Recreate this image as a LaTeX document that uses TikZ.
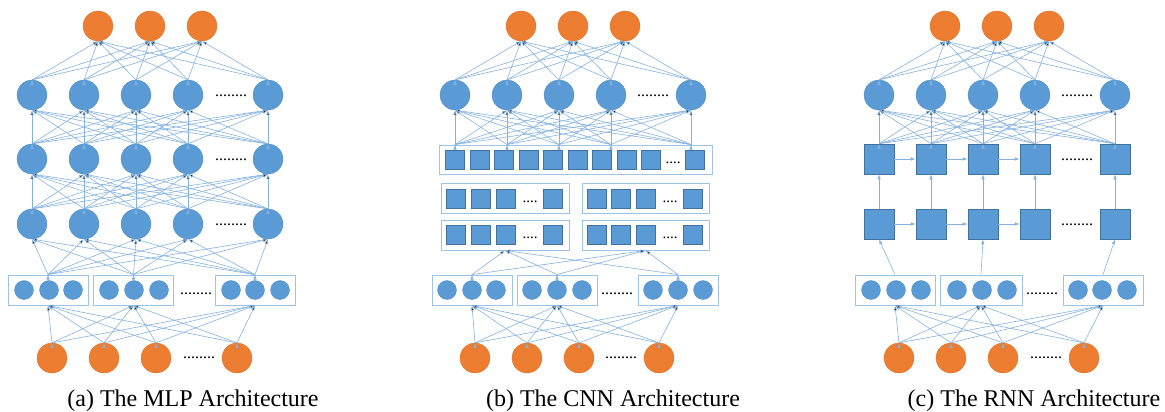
\documentclass[tikz,border=0pt]{standalone}
\usepackage{fontspec}
\setmainfont{Liberation Serif}
\usepackage{tikz, xcolor}
\usetikzlibrary{shapes,arrows.meta}

\definecolor{orng}{RGB}{237,125,49}
\definecolor{blu}{RGB}{91,155,213}
\definecolor{bluedge}{RGB}{65,113,156}
\definecolor{lnblue}{RGB}{132,178,224}
\definecolor{boxblue}{RGB}{157,195,230}

\begin{document}
\begin{tikzpicture}[x=1pt, y=-1pt]
\tikzstyle{vertexo}=[circle, fill=orng, draw=orng!90!black, line width=0.3pt, minimum size=30pt, inner sep=0pt]
\tikzstyle{vertexb}=[circle, fill=blu, draw=blu!90!black, line width=0.3pt, minimum size=30pt, inner sep=0pt]
\tikzstyle{vertexs}=[circle, fill=blu, draw=blu!90!black, line width=0.3pt, minimum size=19pt, inner sep=0pt]
\tikzstyle{vertexq}=[rectangle, fill=blu, draw=bluedge, line width=0.6pt, minimum size=30pt, inner sep=0pt]
\tikzstyle{vertexk}=[rectangle, fill=blu, draw=bluedge, line width=0.5pt, minimum size=19pt, inner sep=0pt]
\tikzstyle{boxstyle}=[rectangle, draw=boxblue, line width=0.9pt, minimum width=80pt, minimum height=30pt, inner sep=0pt]
\tikzstyle{drawstyle}=[draw=lnblue, line width=0.6pt, -{Latex[length=5pt,width=3.5pt]}]
\tikzstyle{dotstyle}=[font=\fontsize{16}{16}\selectfont, anchor=base, inner sep=0pt]
\tikzstyle{dotsmall}=[font=\fontsize{15}{15}\selectfont, anchor=base, inner sep=0pt]
\tikzstyle{capstyle}=[font=\fontsize{24}{28}\selectfont, anchor=base, inner sep=0pt]

\useasboundingbox (0,0) rectangle (1165,412);

% (a) MLP
\node[vertexo] (A0x1) at (98,26) {};
\node[vertexo] (A0x2) at (150,26) {};
\node[vertexo] (A0x3) at (202,26) {};
\node[vertexb] (A1x1) at (32,95) {};
\node[vertexb] (A1x2) at (84,95) {};
\node[vertexb] (A1x3) at (136,95) {};
\node[vertexb] (A1x4) at (188,95) {};
\node[vertexb] (A1x5) at (268,95) {};
\node[dotstyle] (A1dots) at (231,96.5) {........};
\node[vertexb] (A2x1) at (32,159) {};
\node[vertexb] (A2x2) at (84,159) {};
\node[vertexb] (A2x3) at (136,159) {};
\node[vertexb] (A2x4) at (188,159) {};
\node[vertexb] (A2x5) at (268,159) {};
\node[dotstyle] (A2dots) at (231,160.5) {........};
\node[vertexb] (A3x1) at (32,224) {};
\node[vertexb] (A3x2) at (84,224) {};
\node[vertexb] (A3x3) at (136,224) {};
\node[vertexb] (A3x4) at (188,224) {};
\node[vertexb] (A3x5) at (268,224) {};
\node[dotstyle] (A3dots) at (231,225.5) {........};
\node[boxstyle] (A4x1) at (48,290) {};
\node[boxstyle] (A4x2) at (133.5,290) {};
\node[boxstyle] (A4x3) at (255,290) {};
\node[vertexs] (A4x1a) at (24,290) {};
\node[vertexs] (A4x1b) at (49,290) {};
\node[vertexs] (A4x1c) at (73,290) {};
\node[vertexs] (A4x2a) at (109,290) {};
\node[vertexs] (A4x2b) at (134,290) {};
\node[vertexs] (A4x2c) at (159,290) {};
\node[vertexs] (A4x3a) at (231,290) {};
\node[vertexs] (A4x3b) at (255,290) {};
\node[vertexs] (A4x3c) at (280,290) {};
\node[dotstyle] (A4dots) at (196,294.5) {........};
\node[vertexo] (A5x1) at (52,358) {};
\node[vertexo] (A5x2) at (104,358) {};
\node[vertexo] (A5x3) at (156,358) {};
\node[vertexo] (A5x4) at (237,358) {};
\node[dotstyle] (A5dots) at (199,358.5) {........};
\draw[drawstyle] (A5x1.north) edge (A4x1.south) edge (A4x2.south) edge (A4x3.south);
\draw[drawstyle] (A5x2.north) edge (A4x1.south) edge (A4x2.south) edge (A4x3.south);
\draw[drawstyle] (A5x3.north) edge (A4x1.south) edge (A4x2.south) edge (A4x3.south);
\draw[drawstyle] (A5x4.north) edge (A4x1.south) edge (A4x2.south) edge (A4x3.south);
\draw[drawstyle] (A4x1.north) edge (A3x1.south) edge (A3x2.south) edge (A3x3.south) edge (A3x4.south) edge (A3x5.south);
\draw[drawstyle] (A4x2.north) edge (A3x1.south) edge (A3x2.south) edge (A3x3.south) edge (A3x4.south) edge (A3x5.south);
\draw[drawstyle] (A4x3.north) edge (A3x1.south) edge (A3x2.south) edge (A3x3.south) edge (A3x4.south) edge (A3x5.south);
\draw[drawstyle] (A3x1.north) edge (A2x1.south) edge (A2x2.south) edge (A2x3.south) edge (A2x4.south) edge (A2x5.south);
\draw[drawstyle] (A3x2.north) edge (A2x1.south) edge (A2x2.south) edge (A2x3.south) edge (A2x4.south) edge (A2x5.south);
\draw[drawstyle] (A3x3.north) edge (A2x1.south) edge (A2x2.south) edge (A2x3.south) edge (A2x4.south) edge (A2x5.south);
\draw[drawstyle] (A3x4.north) edge (A2x1.south) edge (A2x2.south) edge (A2x3.south) edge (A2x4.south) edge (A2x5.south);
\draw[drawstyle] (A3x5.north) edge (A2x1.south) edge (A2x2.south) edge (A2x3.south) edge (A2x4.south) edge (A2x5.south);
\draw[drawstyle] (A2x1.north) edge (A1x1.south) edge (A1x2.south) edge (A1x3.south) edge (A1x4.south) edge (A1x5.south);
\draw[drawstyle] (A2x2.north) edge (A1x1.south) edge (A1x2.south) edge (A1x3.south) edge (A1x4.south) edge (A1x5.south);
\draw[drawstyle] (A2x3.north) edge (A1x1.south) edge (A1x2.south) edge (A1x3.south) edge (A1x4.south) edge (A1x5.south);
\draw[drawstyle] (A2x4.north) edge (A1x1.south) edge (A1x2.south) edge (A1x3.south) edge (A1x4.south) edge (A1x5.south);
\draw[drawstyle] (A2x5.north) edge (A1x1.south) edge (A1x2.south) edge (A1x3.south) edge (A1x4.south) edge (A1x5.south);
\draw[drawstyle] (A1x1.north) edge (A0x1.south) edge (A0x2.south) edge (A0x3.south);
\draw[drawstyle] (A1x2.north) edge (A0x1.south) edge (A0x2.south) edge (A0x3.south);
\draw[drawstyle] (A1x3.north) edge (A0x1.south) edge (A0x2.south) edge (A0x3.south);
\draw[drawstyle] (A1x4.north) edge (A0x1.south) edge (A0x2.south) edge (A0x3.south);
\draw[drawstyle] (A1x5.north) edge (A0x1.south) edge (A0x2.south) edge (A0x3.south);
\node[capstyle] (Acap) at (193,406) {(a) The MLP Architecture};

% (b) CNN
\node[vertexo] (B0x1) at (521,26) {};
\node[vertexo] (B0x2) at (573,26) {};
\node[vertexo] (B0x3) at (625,26) {};
\node[vertexb] (B1x1) at (455,95) {};
\node[vertexb] (B1x2) at (507,95) {};
\node[vertexb] (B1x3) at (559,95) {};
\node[vertexb] (B1x4) at (611,95) {};
\node[vertexb] (B1x5) at (691,95) {};
\node[dotstyle] (B1dots) at (653,96.5) {........};
\node[boxstyle, minimum width=273pt, minimum height=29pt] (B2) at (575.5,159.5) {};
\node[vertexk] (B2s1) at (455,160) {};
\node[vertexk] (B2s2) at (479.5,160) {};
\node[vertexk] (B2s3) at (504,160) {};
\node[vertexk] (B2s4) at (528.5,160) {};
\node[vertexk] (B2s5) at (553,160) {};
\node[vertexk] (B2s6) at (577.5,160) {};
\node[vertexk] (B2s7) at (602,160) {};
\node[vertexk] (B2s8) at (626.5,160) {};
\node[vertexk] (B2s9) at (651,160) {};
\node[dotsmall] (B2dots) at (673,163) {....};
\node[vertexk] (B2s10) at (695,160) {};
\coordinate (B2x1) at (B1x1 |- B2.north);
\coordinate (B2x2) at (B1x2 |- B2.north);
\coordinate (B2x3) at (B1x3 |- B2.north);
\coordinate (B2x4) at (B1x4 |- B2.north);
\coordinate (B2x5) at (B1x5 |- B2.north);
\node[boxstyle, minimum width=128pt] (B3x1) at (505,198.5) {};
\node[boxstyle, minimum width=127pt] (B3x2) at (645.5,198.5) {};
\node[vertexk] (B3x1a) at (456,198.5) {};
\node[vertexk] (B3x1b) at (481,198.5) {};
\node[vertexk] (B3x1c) at (506,198.5) {};
\node[dotsmall] (B3x1dots) at (530,202) {....};
\node[vertexk] (B3x1d) at (553,198.5) {};
\node[vertexk] (B3x2a) at (597,198.5) {};
\node[vertexk] (B3x2b) at (621,198.5) {};
\node[vertexk] (B3x2c) at (646,198.5) {};
\node[dotsmall] (B3x2dots) at (670,202) {....};
\node[vertexk] (B3x2d) at (693,198.5) {};
\node[boxstyle, minimum width=128pt] (B4x1) at (505,235) {};
\node[boxstyle, minimum width=127pt] (B4x2) at (645.5,235) {};
\node[vertexk] (B4x1a) at (456,235) {};
\node[vertexk] (B4x1b) at (481,235) {};
\node[vertexk] (B4x1c) at (506,235) {};
\node[dotsmall] (B4x1dots) at (530,238.5) {....};
\node[vertexk] (B4x1d) at (553,235) {};
\node[vertexk] (B4x2a) at (597,235) {};
\node[vertexk] (B4x2b) at (621,235) {};
\node[vertexk] (B4x2c) at (646,235) {};
\node[dotsmall] (B4x2dots) at (670,238.5) {....};
\node[vertexk] (B4x2d) at (693,235) {};
\node[boxstyle] (B5x1) at (472,290) {};
\node[boxstyle] (B5x2) at (557,290) {};
\node[boxstyle] (B5x3) at (678,290) {};
\node[vertexs] (B5x1a) at (447,290) {};
\node[vertexs] (B5x1b) at (472,290) {};
\node[vertexs] (B5x1c) at (496,290) {};
\node[vertexs] (B5x2a) at (532,290) {};
\node[vertexs] (B5x2b) at (557,290) {};
\node[vertexs] (B5x2c) at (582,290) {};
\node[vertexs] (B5x3a) at (653,290) {};
\node[vertexs] (B5x3b) at (678,290) {};
\node[vertexs] (B5x3c) at (703,290) {};
\node[dotstyle] (B5dots) at (617,294.5) {........};
\node[vertexo] (B6x1) at (475,358) {};
\node[vertexo] (B6x2) at (527,358) {};
\node[vertexo] (B6x3) at (579,358) {};
\node[vertexo] (B6x4) at (659,358) {};
\node[dotstyle] (B6dots) at (621,358.5) {........};
\draw[drawstyle] (B6x1.north) edge (B5x1.south) edge (B5x2.south) edge (B5x3.south);
\draw[drawstyle] (B6x2.north) edge (B5x1.south) edge (B5x2.south) edge (B5x3.south);
\draw[drawstyle] (B6x3.north) edge (B5x1.south) edge (B5x2.south) edge (B5x3.south);
\draw[drawstyle] (B6x4.north) edge (B5x1.south) edge (B5x2.south) edge (B5x3.south);
\draw[drawstyle] (B5x1.north) edge (B4x1.south) edge (B4x2.south);
\draw[drawstyle] (B5x2.north) edge (B4x1.south) edge (B4x2.south);
\draw[drawstyle] (B5x3.north) edge (B4x1.south) edge (B4x2.south);
\draw[drawstyle] (B2x1) edge (B1x1.south) edge (B1x2.south) edge (B1x3.south) edge (B1x4.south) edge (B1x5.south);
\draw[drawstyle] (B2x2) edge (B1x1.south) edge (B1x2.south) edge (B1x3.south) edge (B1x4.south) edge (B1x5.south);
\draw[drawstyle] (B2x3) edge (B1x1.south) edge (B1x2.south) edge (B1x3.south) edge (B1x4.south) edge (B1x5.south);
\draw[drawstyle] (B2x4) edge (B1x1.south) edge (B1x2.south) edge (B1x3.south) edge (B1x4.south) edge (B1x5.south);
\draw[drawstyle] (B2x5) edge (B1x1.south) edge (B1x2.south) edge (B1x3.south) edge (B1x4.south) edge (B1x5.south);
\draw[drawstyle] (B1x1.north) edge (B0x1.south) edge (B0x2.south) edge (B0x3.south);
\draw[drawstyle] (B1x2.north) edge (B0x1.south) edge (B0x2.south) edge (B0x3.south);
\draw[drawstyle] (B1x3.north) edge (B0x1.south) edge (B0x2.south) edge (B0x3.south);
\draw[drawstyle] (B1x4.north) edge (B0x1.south) edge (B0x2.south) edge (B0x3.south);
\draw[drawstyle] (B1x5.north) edge (B0x1.south) edge (B0x2.south) edge (B0x3.south);
\node[capstyle] (Bcap) at (613,406) {(b) The CNN Architecture};

% (c) RNN
\node[vertexo] (C0x1) at (945,26) {};
\node[vertexo] (C0x2) at (997,26) {};
\node[vertexo] (C0x3) at (1049,26) {};
\node[vertexb] (C1x1) at (879,95) {};
\node[vertexb] (C1x2) at (931,95) {};
\node[vertexb] (C1x3) at (983,95) {};
\node[vertexb] (C1x4) at (1035,95) {};
\node[vertexb] (C1x5) at (1115,95) {};
\node[dotstyle] (C1dots) at (1077,96.5) {........};
\node[vertexq] (C2x1) at (879,159) {};
\node[vertexq] (C2x2) at (931,159) {};
\node[vertexq] (C2x3) at (983,159) {};
\node[vertexq] (C2x4) at (1035,159) {};
\node[vertexq] (C2x5) at (1115,159) {};
\node[dotstyle] (C2dots) at (1077,160) {........};
\node[vertexq] (C3x1) at (879,224) {};
\node[vertexq] (C3x2) at (931,224) {};
\node[vertexq] (C3x3) at (983,224) {};
\node[vertexq] (C3x4) at (1035,224) {};
\node[vertexq] (C3x5) at (1115,224) {};
\node[dotstyle] (C3dots) at (1077,225) {........};
\node[boxstyle] (C4x1) at (895,290) {};
\node[boxstyle, minimum width=82pt] (C4x2) at (981,290) {};
\node[boxstyle] (C4x3) at (1103,290) {};
\node[vertexs] (C4x1a) at (871,290) {};
\node[vertexs] (C4x1b) at (896,290) {};
\node[vertexs] (C4x1c) at (921,290) {};
\node[vertexs] (C4x2a) at (957,290) {};
\node[vertexs] (C4x2b) at (982,290) {};
\node[vertexs] (C4x2c) at (1007,290) {};
\node[vertexs] (C4x3a) at (1078,290) {};
\node[vertexs] (C4x3b) at (1102,290) {};
\node[vertexs] (C4x3c) at (1127,290) {};
\node[dotstyle] (C4dots) at (1042,294.5) {........};
\node[vertexo] (C5x1) at (899,358) {};
\node[vertexo] (C5x2) at (951,358) {};
\node[vertexo] (C5x3) at (1003,358) {};
\node[vertexo] (C5x4) at (1084,358) {};
\node[dotstyle] (C5dots) at (1046,358.5) {........};
\draw[drawstyle] (C5x1.north) edge (C4x1.south) edge (C4x2.south) edge (C4x3.south);
\draw[drawstyle] (C5x2.north) edge (C4x1.south) edge (C4x2.south) edge (C4x3.south);
\draw[drawstyle] (C5x3.north) edge (C4x1.south) edge (C4x2.south) edge (C4x3.south);
\draw[drawstyle] (C5x4.north) edge (C4x1.south) edge (C4x2.south) edge (C4x3.south);
\draw[drawstyle] (C4x1.north) -- (C3x1.south);
\draw[drawstyle] (C4x2.north) -- (C3x3.south);
\draw[drawstyle] (C4x3.north) -- (C3x5.south);
\draw[drawstyle] (C3x1.north) -- (C2x1.south);
\draw[drawstyle] (C3x2.north) -- (C2x2.south);
\draw[drawstyle] (C3x3.north) -- (C2x3.south);
\draw[drawstyle] (C3x4.north) -- (C2x4.south);
\draw[drawstyle] (C3x5.north) -- (C2x5.south);
\draw[drawstyle] (C3x1) -- (C3x2);
\draw[drawstyle] (C3x2) -- (C3x3);
\draw[drawstyle] (C3x3) -- (C3x4);
\draw[drawstyle] (C2x1) -- (C2x2);
\draw[drawstyle] (C2x2) -- (C2x3);
\draw[drawstyle] (C2x3) -- (C2x4);
\draw[drawstyle] (C2x1.north) edge (C1x1.south) edge (C1x2.south) edge (C1x3.south) edge (C1x4.south) edge (C1x5.south);
\draw[drawstyle] (C2x2.north) edge (C1x1.south) edge (C1x2.south) edge (C1x3.south) edge (C1x4.south) edge (C1x5.south);
\draw[drawstyle] (C2x3.north) edge (C1x1.south) edge (C1x2.south) edge (C1x3.south) edge (C1x4.south) edge (C1x5.south);
\draw[drawstyle] (C2x4.north) edge (C1x1.south) edge (C1x2.south) edge (C1x3.south) edge (C1x4.south) edge (C1x5.south);
\draw[drawstyle] (C2x5.north) edge (C1x1.south) edge (C1x2.south) edge (C1x3.south) edge (C1x4.south) edge (C1x5.south);
\draw[drawstyle] (C1x1.north) edge (C0x1.south) edge (C0x2.south) edge (C0x3.south);
\draw[drawstyle] (C1x2.north) edge (C0x1.south) edge (C0x2.south) edge (C0x3.south);
\draw[drawstyle] (C1x3.north) edge (C0x1.south) edge (C0x2.south) edge (C0x3.south);
\draw[drawstyle] (C1x4.north) edge (C0x1.south) edge (C0x2.south) edge (C0x3.south);
\draw[drawstyle] (C1x5.north) edge (C0x1.south) edge (C0x2.south) edge (C0x3.south);
\node[capstyle] (Ccap) at (1034,406) {(c) The RNN Architecture};
\end{tikzpicture}
\end{document}
